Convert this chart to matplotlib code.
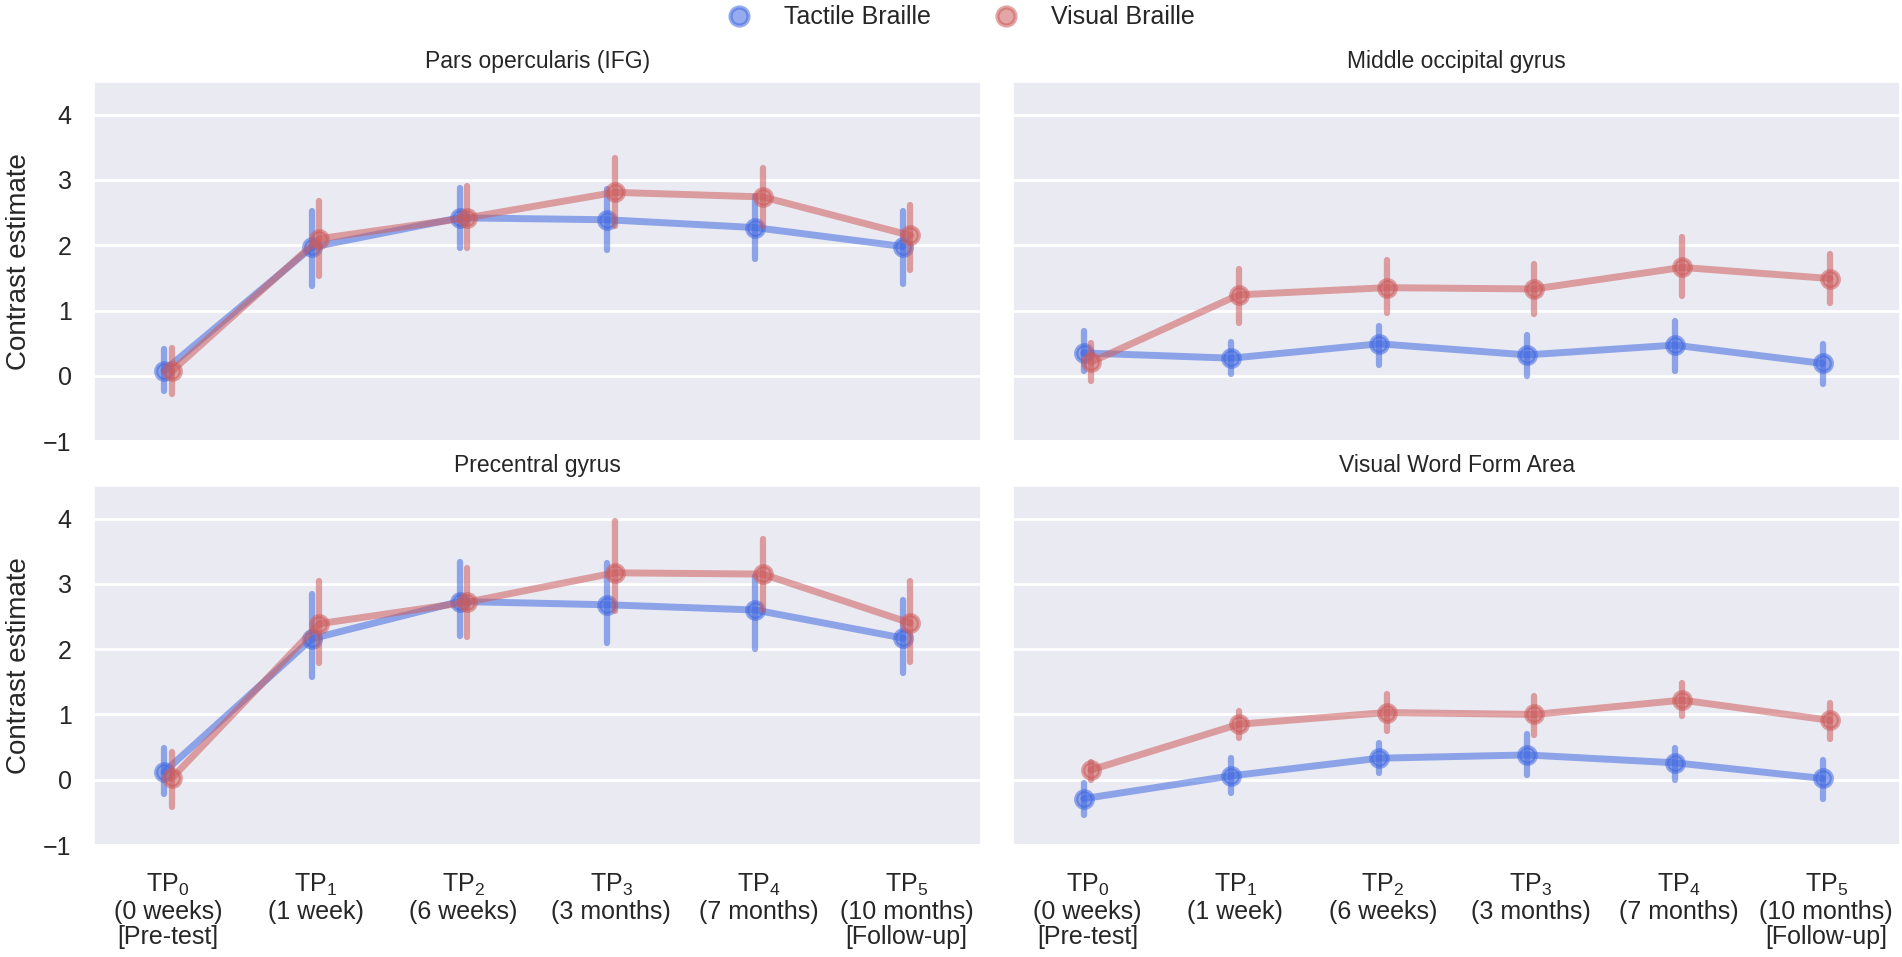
import matplotlib as mpl
mpl.use('Agg')

import numpy as np
import matplotlib.pyplot as plt
import seaborn as sns
from matplotlib.lines import Line2D

sns.set_theme(style='darkgrid')
plt.rcParams['font.family'] = ['Liberation Sans', 'DejaVu Sans']
plt.rcParams['mathtext.default'] = 'regular'

tp_labels = ['TP$_0$\n(0 weeks)\n[Pre-test]', 'TP$_1$\n(1 week)', 'TP$_2$\n(6 weeks)',
             'TP$_3$\n(3 months)', 'TP$_4$\n(7 months)', 'TP$_5$\n(10 months)\n[Follow-up]']
groups = ['Tactile Braille', 'Visual Braille']
regions = ['Pars opercularis (IFG)', 'Middle occipital gyrus',
           'Precentral gyrus', 'Visual Word Form Area']

# mean, lower CI, upper CI per time point
ifg_tac = [0.08, 1.97, 2.42, 2.39, 2.27, 1.98]
ifg_tac_lo = [-0.24, 1.37, 1.96, 1.92, 1.79, 1.41]
ifg_tac_hi = [0.41, 2.52, 2.87, 2.86, 2.75, 2.53]
ifg_vis = [0.07, 2.10, 2.42, 2.81, 2.74, 2.15]
ifg_vis_lo = [-0.28, 1.53, 1.95, 2.30, 2.29, 1.62]
ifg_vis_hi = [0.42, 2.67, 2.90, 3.33, 3.19, 2.62]

mog_tac = [0.35, 0.27, 0.49, 0.32, 0.47, 0.19]
mog_tac_lo = [0.07, 0.02, 0.17, 0.00, 0.07, -0.12]
mog_tac_hi = [0.68, 0.52, 0.77, 0.62, 0.84, 0.49]
mog_vis = [0.21, 1.24, 1.35, 1.33, 1.66, 1.49]
mog_vis_lo = [-0.08, 0.81, 0.96, 0.94, 1.22, 1.11]
mog_vis_hi = [0.50, 1.64, 1.77, 1.72, 2.13, 1.87]

prec_tac = [0.12, 2.16, 2.73, 2.68, 2.60, 2.17]
prec_tac_lo = [-0.22, 1.58, 2.20, 2.09, 2.00, 1.63]
prec_tac_hi = [0.48, 2.85, 3.34, 3.32, 3.12, 2.75]
prec_vis = [0.02, 2.39, 2.72, 3.17, 3.15, 2.40]
prec_vis_lo = [-0.41, 1.79, 2.19, 2.58, 2.60, 1.80]
prec_vis_hi = [0.43, 3.05, 3.24, 3.97, 3.69, 3.04]

vwfa_tac = [-0.29, 0.06, 0.33, 0.38, 0.26, 0.02]
vwfa_tac_lo = [-0.54, -0.21, 0.10, 0.08, 0.00, -0.29]
vwfa_tac_hi = [-0.05, 0.33, 0.56, 0.70, 0.49, 0.31]
vwfa_vis = [0.15, 0.85, 1.03, 1.00, 1.22, 0.91]
vwfa_vis_lo = [-0.01, 0.64, 0.74, 0.69, 0.98, 0.62]
vwfa_vis_hi = [0.27, 1.06, 1.32, 1.28, 1.48, 1.18]

panel_data = [
    [(ifg_tac, ifg_tac_lo, ifg_tac_hi), (ifg_vis, ifg_vis_lo, ifg_vis_hi)],
    [(mog_tac, mog_tac_lo, mog_tac_hi), (mog_vis, mog_vis_lo, mog_vis_hi)],
    [(prec_tac, prec_tac_lo, prec_tac_hi), (prec_vis, prec_vis_lo, prec_vis_hi)],
    [(vwfa_tac, vwfa_tac_lo, vwfa_tac_hi), (vwfa_vis, vwfa_vis_lo, vwfa_vis_hi)],
]

colors = ['royalblue', 'indianred']
alpha = 0.55
dodge = [-0.025, 0.025]

fig, axes = plt.subplots(2, 2, figsize=(19.02, 9.57), dpi=100, sharex=True, sharey=True)
fig.subplots_adjust(left=0.0494, right=0.999, top=0.9143, bottom=0.117,
                    wspace=0.037, hspace=0.125)

x = np.arange(len(tp_labels))
for ax, title, data in zip(axes.flat, regions, panel_data):
    for g, (mean, lo, hi) in enumerate(data):
        xs = x + dodge[g]
        ax.vlines(xs, lo, hi, color=colors[g], alpha=alpha, lw=4.5, capstyle='round', zorder=2 + g)
        ax.plot(xs, mean, color=colors[g], alpha=alpha, lw=5, zorder=2 + g,
                marker='o', markersize=12, markeredgewidth=3,
                markerfacecolor=colors[g], markeredgecolor=colors[g])
    ax.set_title(title, fontsize=16.5, pad=10)
    ax.set_xlim(-0.5, 5.5)
    ax.set_ylim(-1, 4.5)
    ax.set_yticks([-1, 0, 1, 2, 3, 4])
    ax.grid(True, axis='y', color='white', lw=2)
    ax.grid(False, axis='x')
    ax.tick_params(axis='y', labelsize=18, length=0, pad=16)
    ax.tick_params(axis='x', labelsize=18, length=0, pad=19)

for ax in axes[:, 0]:
    ax.set_ylabel('Contrast estimate', fontsize=20, labelpad=8)
for ax in axes[1, :]:
    ax.set_xticks(x)
    ax.set_xticklabels(tp_labels, fontsize=18, linespacing=1.1)

handles = [Line2D([], [], ls='none', marker='o', markersize=13, markeredgewidth=3,
                  color=c, alpha=alpha) for c in colors]
fig.legend(handles, groups, loc='upper center', bbox_to_anchor=(0.502, 1.018),
           ncol=2, frameon=False, fontsize=18)

fig.savefig('out.png', dpi=100)
